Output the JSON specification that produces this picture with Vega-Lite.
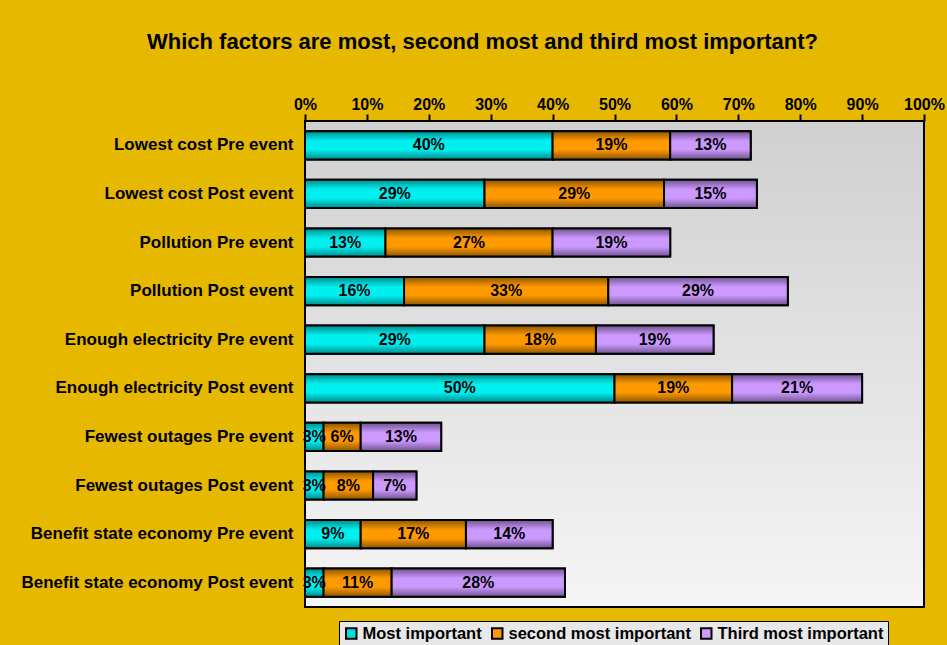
{
  "$schema": "https://vega.github.io/schema/vega-lite/v6.json",
  "width": 619,
  "height": 486,
  "autosize": {"type": "none"},
  "padding": {"left": 305, "top": 121, "right": 23, "bottom": 38},
  "background": "#E6B800",
  "title": {
    "text": "Which factors are most, second most and third most important?",
    "fontSize": 22,
    "fontWeight": "bold",
    "color": "#000000",
    "anchor": "middle",
    "dx": -132,
    "offset": 42
  },
  "data": {
    "values": [
      {"factor": "Lowest cost Pre event", "importance": "Most important", "rank": 1, "value": 0.40},
      {"factor": "Lowest cost Pre event", "importance": "second most important", "rank": 2, "value": 0.19},
      {"factor": "Lowest cost Pre event", "importance": "Third most important", "rank": 3, "value": 0.13},
      {"factor": "Lowest cost Post event", "importance": "Most important", "rank": 1, "value": 0.29},
      {"factor": "Lowest cost Post event", "importance": "second most important", "rank": 2, "value": 0.29},
      {"factor": "Lowest cost Post event", "importance": "Third most important", "rank": 3, "value": 0.15},
      {"factor": "Pollution Pre event\u00a0", "importance": "Most important", "rank": 1, "value": 0.13},
      {"factor": "Pollution Pre event\u00a0", "importance": "second most important", "rank": 2, "value": 0.27},
      {"factor": "Pollution Pre event\u00a0", "importance": "Third most important", "rank": 3, "value": 0.19},
      {"factor": "Pollution Post event\u00a0", "importance": "Most important", "rank": 1, "value": 0.16},
      {"factor": "Pollution Post event\u00a0", "importance": "second most important", "rank": 2, "value": 0.33},
      {"factor": "Pollution Post event\u00a0", "importance": "Third most important", "rank": 3, "value": 0.29},
      {"factor": "Enough electricity Pre event", "importance": "Most important", "rank": 1, "value": 0.29},
      {"factor": "Enough electricity Pre event", "importance": "second most important", "rank": 2, "value": 0.18},
      {"factor": "Enough electricity Pre event", "importance": "Third most important", "rank": 3, "value": 0.19},
      {"factor": "Enough electricity Post event", "importance": "Most important", "rank": 1, "value": 0.50},
      {"factor": "Enough electricity Post event", "importance": "second most important", "rank": 2, "value": 0.19},
      {"factor": "Enough electricity Post event", "importance": "Third most important", "rank": 3, "value": 0.21},
      {"factor": "Fewest outages Pre event", "importance": "Most important", "rank": 1, "value": 0.03},
      {"factor": "Fewest outages Pre event", "importance": "second most important", "rank": 2, "value": 0.06},
      {"factor": "Fewest outages Pre event", "importance": "Third most important", "rank": 3, "value": 0.13},
      {"factor": "Fewest outages Post event", "importance": "Most important", "rank": 1, "value": 0.03},
      {"factor": "Fewest outages Post event", "importance": "second most important", "rank": 2, "value": 0.08},
      {"factor": "Fewest outages Post event", "importance": "Third most important", "rank": 3, "value": 0.07},
      {"factor": "Benefit state economy Pre event", "importance": "Most important", "rank": 1, "value": 0.09},
      {"factor": "Benefit state economy Pre event", "importance": "second most important", "rank": 2, "value": 0.17},
      {"factor": "Benefit state economy Pre event", "importance": "Third most important", "rank": 3, "value": 0.14},
      {"factor": "Benefit state economy Post event", "importance": "Most important", "rank": 1, "value": 0.03},
      {"factor": "Benefit state economy Post event", "importance": "second most important", "rank": 2, "value": 0.11},
      {"factor": "Benefit state economy Post event", "importance": "Third most important", "rank": 3, "value": 0.28}
    ]
  },
  "transform": [
    {"stack": "value", "groupby": ["factor"], "sort": [{"field": "rank", "order": "ascending"}], "as": ["v0", "v1"]},
    {"calculate": "(datum.v0 + datum.v1) / 2", "as": "mid"}
  ],
  "encoding": {
    "y": {
      "field": "factor",
      "type": "nominal",
      "sort": [
        "Lowest cost Pre event", "Lowest cost Post event",
        "Pollution Pre event\u00a0", "Pollution Post event\u00a0",
        "Enough electricity Pre event", "Enough electricity Post event",
        "Fewest outages Pre event", "Fewest outages Post event",
        "Benefit state economy Pre event", "Benefit state economy Post event"
      ],
      "scale": {"paddingInner": 0.42, "paddingOuter": 0.21},
      "axis": {
        "title": null,
        "ticks": false,
        "domain": false,
        "labelFontSize": 17,
        "labelFontWeight": "bold",
        "labelColor": "#000000",
        "labelPadding": 12,
        "labelLimit": 400
      }
    },
    "x": {
      "field": "v0",
      "type": "quantitative",
      "scale": {"domain": [0, 1], "nice": false},
      "axis": {
        "orient": "top",
        "title": null,
        "values": [0, 0.1, 0.2, 0.3, 0.4, 0.5, 0.6, 0.7, 0.8, 0.9, 1],
        "format": ".0%",
        "grid": false,
        "domain": false,
        "tickColor": "#000000",
        "tickWidth": 2,
        "tickSize": 7,
        "labelFontSize": 16,
        "labelFontWeight": "bold",
        "labelColor": "#000000",
        "labelPadding": 2,
        "labelFlush": false
      }
    }
  },
  "layer": [
    {
      "mark": {"type": "bar", "stroke": "#000000", "strokeWidth": 2},
      "encoding": {
        "x2": {"field": "v1"},
        "color": {
          "field": "importance",
          "type": "nominal",
          "scale": {
            "domain": ["Most important", "second most important", "Third most important"],
            "range": ["#00E0E0", "#FF9900", "#CC99FF"]
          },
          "legend": {
            "title": null,
            "orient": "none",
            "legendX": 34,
            "legendY": 500,
            "direction": "horizontal",
            "symbolType": "square",
            "symbolSize": 110,
            "symbolStrokeColor": "#000000",
            "symbolStrokeWidth": 2,
            "labelFontSize": 16.5,
            "labelFontWeight": "bold",
            "labelColor": "#000000",
            "labelLimit": 400,
            "labelOffset": 3,
            "columnPadding": 6,
            "fillColor": "#E8E8E8",
            "strokeColor": "#000000",
            "padding": 4
          }
        }
      }
    },
    {
      "transform": [{"filter": "datum.importance === 'Most important'"}],
      "mark": {"type": "bar", "stroke": "#000000", "strokeWidth": 2},
      "encoding": {
        "x2": {"field": "v1"},
        "color": {"value": {"gradient": "linear", "x1": 0, "y1": 0, "x2": 0, "y2": 1,
          "stops": [{"offset": 0, "color": "#008C8C"}, {"offset": 0.35, "color": "#00F0F0"}, {"offset": 0.65, "color": "#00F0F0"}, {"offset": 1, "color": "#008C8C"}]}}
      }
    },
    {
      "transform": [{"filter": "datum.importance === 'second most important'"}],
      "mark": {"type": "bar", "stroke": "#000000", "strokeWidth": 2},
      "encoding": {
        "x2": {"field": "v1"},
        "color": {"value": {"gradient": "linear", "x1": 0, "y1": 0, "x2": 0, "y2": 1,
          "stops": [{"offset": 0, "color": "#8C5500"}, {"offset": 0.35, "color": "#FF9900"}, {"offset": 0.65, "color": "#FF9900"}, {"offset": 1, "color": "#8C5500"}]}}
      }
    },
    {
      "transform": [{"filter": "datum.importance === 'Third most important'"}],
      "mark": {"type": "bar", "stroke": "#000000", "strokeWidth": 2},
      "encoding": {
        "x2": {"field": "v1"},
        "color": {"value": {"gradient": "linear", "x1": 0, "y1": 0, "x2": 0, "y2": 1,
          "stops": [{"offset": 0, "color": "#705490"}, {"offset": 0.35, "color": "#CC99FF"}, {"offset": 0.65, "color": "#CC99FF"}, {"offset": 1, "color": "#705490"}]}}
      }
    },
    {
      "mark": {"type": "text", "fontSize": 16, "fontWeight": "bold", "color": "#000000", "align": "center", "baseline": "middle"},
      "encoding": {
        "x": {"field": "mid", "type": "quantitative"},
        "text": {"field": "value", "type": "quantitative", "format": ".0%"}
      }
    }
  ],
  "config": {
    "font": "Liberation Sans",
    "view": {
      "fill": {"gradient": "linear", "x1": 0, "y1": 0, "x2": 0, "y2": 1,
        "stops": [{"offset": 0, "color": "#D0D0D0"}, {"offset": 1, "color": "#F5F5F5"}]},
      "stroke": "#000000",
      "strokeWidth": 2
    }
  }
}
